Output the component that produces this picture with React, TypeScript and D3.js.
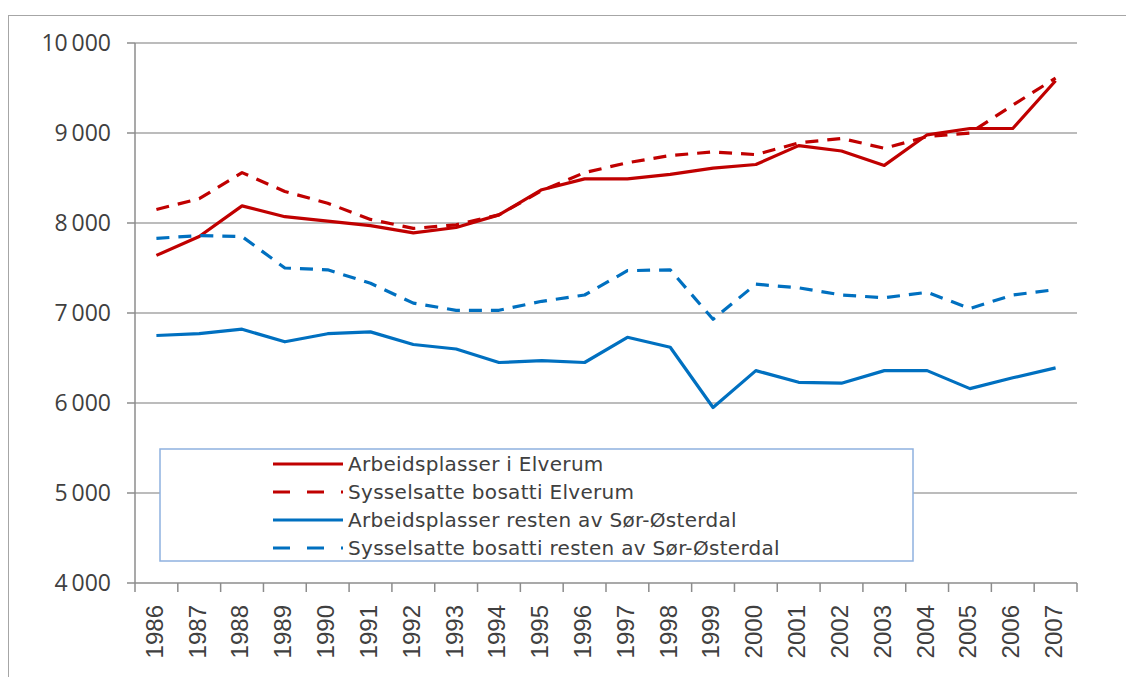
import React from 'react';
import * as d3 from 'd3';

const years = ['1986', '1987', '1988', '1989', '1990', '1991', '1992', '1993', '1994', '1995', '1996',
  '1997', '1998', '1999', '2000', '2001', '2002', '2003', '2004', '2005', '2006', '2007'];

const arbeidElverum = [7640, 7850, 8190, 8070, 8020, 7970, 7890, 7950, 8090, 8370, 8490,
  8490, 8540, 8610, 8650, 8860, 8800, 8640, 8980, 9050, 9050, 9580];
const sysselElverum = [8150, 8270, 8560, 8350, 8220, 8040, 7940, 7980, 8090, 8360, 8560,
  8670, 8750, 8790, 8760, 8890, 8940, 8830, 8960, 9000, 9310, 9610];
const arbeidResten = [6750, 6770, 6820, 6680, 6770, 6790, 6650, 6600, 6450, 6470, 6450,
  6730, 6620, 5950, 6360, 6230, 6220, 6360, 6360, 6160, 6280, 6390];
const sysselResten = [7830, 7860, 7850, 7500, 7480, 7330, 7110, 7030, 7030, 7130, 7200,
  7470, 7480, 6930, 7320, 7280, 7200, 7170, 7230, 7050, 7200, 7260];

const yTicks = [4000, 5000, 6000, 7000, 8000, 9000, 10000];

const RED = '#c00000';
const BLUE = '#0070c0';

const series = [
  { name: 'Arbeidsplasser i Elverum', values: arbeidElverum, color: RED, dashed: false },
  { name: 'Sysselsatte bosatti Elverum', values: sysselElverum, color: RED, dashed: true },
  { name: 'Arbeidsplasser resten av Sør-Østerdal', values: arbeidResten, color: BLUE, dashed: false },
  { name: 'Sysselsatte bosatti resten av Sør-Østerdal', values: sysselResten, color: BLUE, dashed: true },
];

const fmt = (v: number) => d3.format(',')(v).replace(',', '\u2009');

export default function App() {
  const width = 1126;
  const height = 677;
  const left = 135, right = 1077, top = 43, bottom = 583;

  const x = d3.scaleBand().domain(years).range([left, right]);
  const y = d3.scaleLinear().domain([4000, 10000]).range([bottom, top]);

  const line = d3.line<number>()
    .x((_, i) => (x(years[i]) as number) + x.bandwidth() / 2)
    .y(d => y(d));

  const legend = { x: 160, y: 449, w: 753, h: 112 };

  return (
    <svg width={width} height={height} style={{ position: 'absolute', left: 0, top: 0, background: '#fff' }}>
      <rect x={8.5} y={15.5} width={1300} height={800} fill="#fff" stroke="#a6a6a6" strokeWidth={1} />

      {/* gridlines */}
      {yTicks.slice(1).map(t => (
        <line key={t} x1={left} x2={right} y1={y(t)} y2={y(t)} stroke="#a6a6a6" strokeWidth={1.5} />
      ))}

      {/* y axis */}
      <line x1={left} x2={left} y1={top} y2={bottom} stroke="#8c8c8c" strokeWidth={1.5} />
      {yTicks.map(t => (
        <g key={t}>
          <line x1={127} x2={left} y1={y(t)} y2={y(t)} stroke="#8c8c8c" strokeWidth={1.5} />
          <text x={111} y={y(t)} dy="0.35em" textAnchor="end" fontFamily="'Open Sans', sans-serif"
            fontSize={23} fill="#404040">{fmt(t)}</text>
        </g>
      ))}

      {/* x axis */}
      <line x1={left} x2={right} y1={bottom} y2={bottom} stroke="#8c8c8c" strokeWidth={1.5} />
      {years.map((yr, i) => (
        <line key={'t' + yr} x1={left + x.step() * i} x2={left + x.step() * i} y1={bottom} y2={bottom + 9}
          stroke="#8c8c8c" strokeWidth={1.5} />
      ))}
      <line x1={right} x2={right} y1={bottom} y2={bottom + 9} stroke="#8c8c8c" strokeWidth={1.5} />
      {years.map(yr => {
        const cx = (x(yr) as number) + x.bandwidth() / 2;
        return (
          <text key={yr} transform={`translate(${cx - 2},605) rotate(-90)`} dy="0.35em" textAnchor="end"
            fontFamily="'Liberation Sans', Arial, sans-serif" fontSize={24} fill="#404040">{yr}</text>
        );
      })}

      {/* series */}
      {series.map(s => (
        <path key={s.name} d={line(s.values) as string} fill="none" stroke={s.color} strokeWidth={3.2}
          strokeDasharray={s.dashed ? '13,9' : undefined} strokeLinejoin="round" />
      ))}

      {/* legend */}
      <rect x={legend.x} y={legend.y} width={legend.w} height={legend.h} fill="#fff" stroke="#8fb1df" strokeWidth={1.5} />
      {series.map((s, i) => {
        const ly = 464 + i * 28;
        return (
          <g key={'l' + s.name}>
            <line x1={273} x2={343} y1={ly} y2={ly} stroke={s.color} strokeWidth={3.2}
              strokeDasharray={s.dashed ? '17,17' : undefined} />
            <text x={348} y={ly} dy="0.35em" fontFamily="'DejaVu Sans', sans-serif" fontSize={20}
              letterSpacing={0.3} fill="#404040">{s.name}</text>
          </g>
        );
      })}
    </svg>
  );
}
